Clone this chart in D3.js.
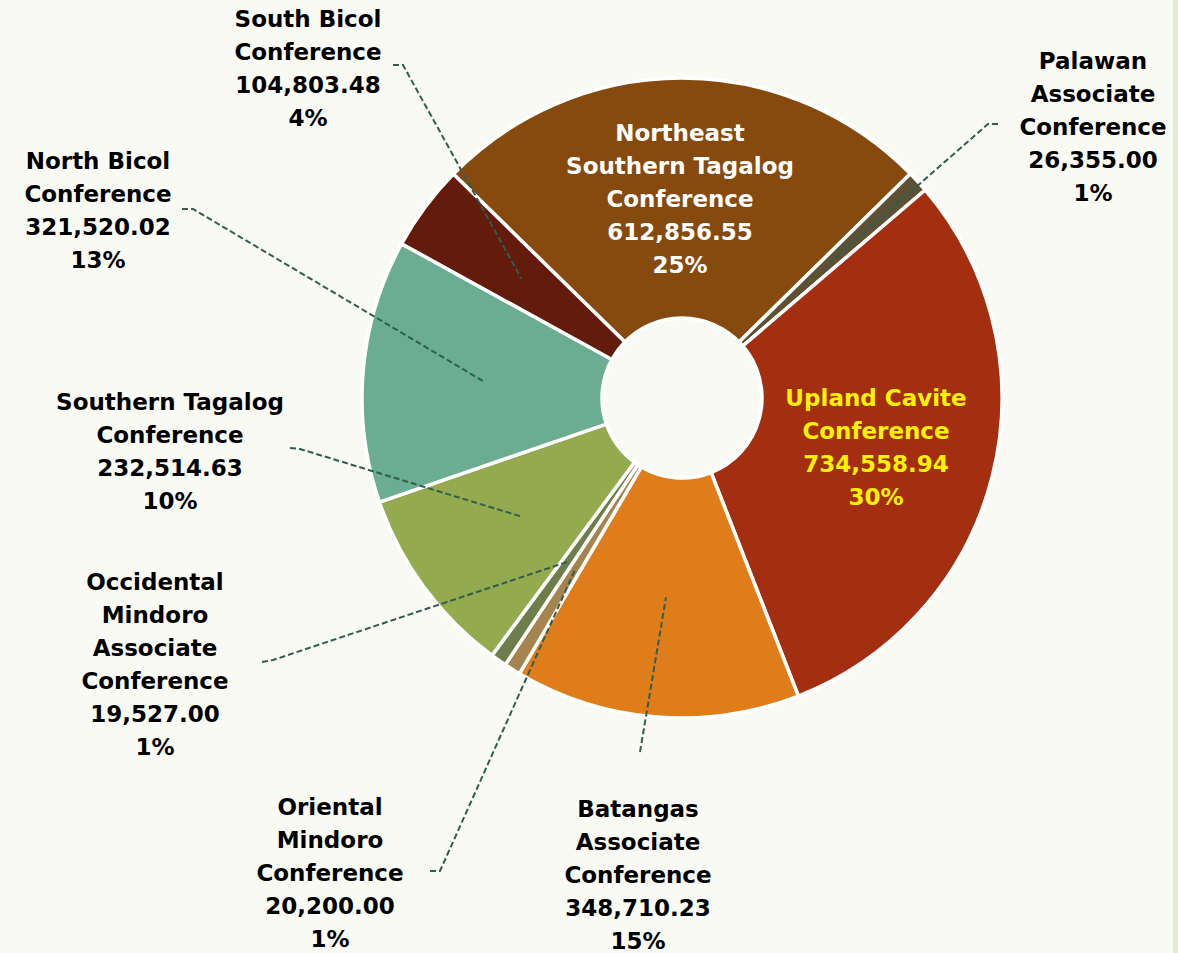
<!DOCTYPE html>
<html>
<head>
<meta charset="utf-8">
<script src="https://cdn.jsdelivr.net/npm/d3@7"></script>
<style>
  html, body { margin: 0; padding: 0; background: #FAFAF5; }
  svg { display: block; }
  .lbl { font-family: "DejaVu Sans", sans-serif; font-weight: bold; font-size: 23px; }
</style>
</head>
<body>
<div id="chart"></div>
<script>
// 1: DATA (clockwise from the top-left of the Northeast slice)
const conferences = [
  ["Northeast", "Southern Tagalog", "Conference"],
  ["Palawan", "Associate", "Conference"],
  ["Upland Cavite", "Conference"],
  ["Batangas", "Associate", "Conference"],
  ["Oriental", "Mindoro", "Conference"],
  ["Occidental", "Mindoro", "Associate", "Conference"],
  ["Southern Tagalog", "Conference"],
  ["North Bicol", "Conference"],
  ["South Bicol", "Conference"]
];
const amounts = [612856.55, 26355.00, 734558.94, 348710.23, 20200.00, 19527.00, 232514.63, 321520.02, 104803.48];
const sliceColors = ["#864A0E", "#5C5134", "#A42E10", "#DF7D1A", "#A6844F", "#6E7E4A", "#94AA4E", "#6AAD93", "#631B0B"];

// label layout: centre x, first baseline y, leader start + bend (null = inside slice)
const labelLayout = [
  { x: 680, y: 141, color: "#FFFFFF", leader: null },
  { x: 1093, y: 69, color: "#000000", leader: [[998, 124], [988, 124]] },
  { x: 876, y: 406, color: "#FFF200", leader: null },
  { x: 638, y: 817, color: "#000000", leader: [[640, 752]] },
  { x: 330, y: 815, color: "#000000", leader: [[430, 871], [440, 871]] },
  { x: 155, y: 590, color: "#000000", leader: [[262, 662], [273, 660]] },
  { x: 170, y: 410, color: "#000000", leader: [[290, 448], [300, 449]] },
  { x: 98, y: 169, color: "#000000", leader: [[182, 209], [193, 209]] },
  { x: 308, y: 27, color: "#000000", leader: [[393, 65], [403, 65]] }
];

const W = 1178, H = 953;
const cx = 682, cy = 398, outerR = 320, innerR = 80;
const lineH = 33;

const svg = d3.select("#chart").append("svg")
  .attr("width", W).attr("height", H);

svg.append("rect").attr("width", W).attr("height", H).attr("fill", "#FAFAF5");
svg.append("rect").attr("x", 1173).attr("width", 5).attr("height", H).attr("fill", "#E3EBD2");

// percentages that add to 100 (largest remainder, like Excel)
const total = d3.sum(amounts);
const raw = amounts.map(v => v / total * 100);
const pcts = raw.map(Math.floor);
let left = 100 - d3.sum(pcts);
d3.range(raw.length)
  .sort((a, b) => (raw[b] - pcts[b]) - (raw[a] - pcts[a]))
  .slice(0, left)
  .forEach(i => pcts[i] += 1);

const startA = -45.6 * Math.PI / 180;
const pie = d3.pie().sort(null).startAngle(startA).endAngle(startA + 2 * Math.PI);
const arcs = pie(amounts);

const arc = d3.arc().innerRadius(innerR).outerRadius(outerR);
const midArc = d3.arc().innerRadius(200).outerRadius(200);

const g = svg.append("g").attr("transform", `translate(${cx},${cy})`);

g.selectAll("path.slice")
  .data(arcs)
  .enter()
  .append("path")
  .attr("class", "slice")
  .attr("d", arc)
  .attr("fill", (d, i) => sliceColors[i])
  .attr("stroke", "#FFFFFF")
  .attr("stroke-width", 3.5)
  .attr("stroke-linejoin", "miter");

// leader lines
const fmt = d3.format(",.2f");
arcs.forEach((d, i) => {
  const lay = labelLayout[i];
  if (!lay.leader) return;
  const [mx, my] = midArc.centroid(d);
  const pts = lay.leader.concat([[mx + cx, my + cy]]);
  svg.append("path")
    .attr("d", d3.line()(pts))
    .attr("fill", "none")
    .attr("stroke", "#2F5E4E")
    .attr("stroke-width", 2)
    .attr("stroke-dasharray", "6,3");
});

// labels
arcs.forEach((d, i) => {
  const lay = labelLayout[i];
  const lines = conferences[i].concat([fmt(amounts[i]), pcts[i] + "%"]);
  const t = svg.append("text")
    .attr("class", "lbl")
    .attr("text-anchor", "middle")
    .attr("fill", lay.color);
  lines.forEach((s, k) => {
    t.append("tspan")
      .attr("x", lay.x)
      .attr("y", lay.y + k * lineH)
      .text(s);
  });
});
</script>
</body>
</html>
